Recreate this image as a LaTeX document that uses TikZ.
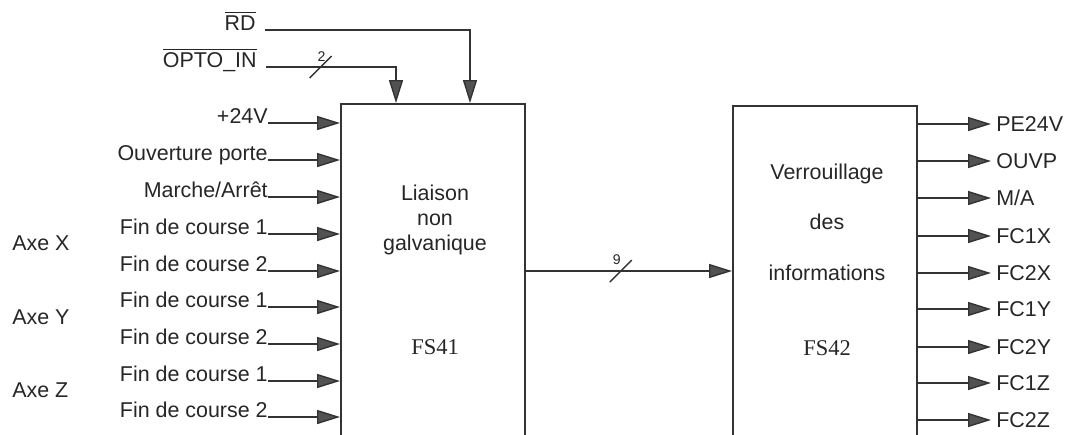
\documentclass[tikz,border=0pt]{standalone}
\usepackage{fontspec}
\setmainfont{Liberation Sans}
\newfontfamily\fsfont{Liberation Serif}
\usetikzlibrary{positioning, arrows.meta}

\begin{document}
\begin{tikzpicture}[
        x=0.02cm, y=-0.02cm,
        % blocchi funzionali (aperti in basso)
        box/.style={
            draw=black!80,
            line width=1.1pt,
            minimum width=3.68cm,
            minimum height=7.4cm,
            inner sep=0pt
        },
        lbl/.style={font=\fontsize{12.2}{14}\selectfont, text=black!85, inner sep=0pt},
        small/.style={font=\fontsize{8}{9}\selectfont, text=black!85, inner sep=0pt},
        % segnali con freccia piena
        sig/.style={draw=black!80, line width=0.8pt,
            -{Triangle[length=0.46cm, width=0.28cm, fill=black!68]}},
        bus/.style={draw=black!80, line width=0.8pt},
    ]

    \useasboundingbox (0,0) rectangle (1069,434);
    \clip (0,0) rectangle (1069,434);

    \node[box] (fs41) at (433,289) {};
    \node[box] (fs42) at (825,291) {};

    \node[lbl, align=center, font=\fontsize{12.2}{14.2}\selectfont] (fs41txt) at (435,220) {Liaison\\non\\galvanique};
    \node[lbl, font=\fsfont\fontsize{12.8}{15}\selectfont] (fs41id) at (435,347) {FS41};
    \node[lbl, align=center, font=\fontsize{12.2}{28.7}\selectfont] (fs42txt) at (827,222) {Verrouillage\\des\\informations};
    \node[lbl, font=\fsfont\fontsize{12.8}{15}\selectfont] (fs42id) at (827,348) {FS42};

    % ingressi
    \foreach \y/\t [count=\i] in {123/+24V, 160/Ouverture porte, 197/{Marche/Arrêt},
            234/Fin de course 1, 271/Fin de course 2, 307/Fin de course 1,
            344/Fin de course 2, 381/Fin de course 1, 417/Fin de course 2}{
        \node[lbl, anchor=base east] (in\i) at (268,\y) {\t};
        \draw[sig] (in\i.base east) -- (fs41.west |- in\i.base east);
    }

    \node[lbl, anchor=west] (axex) at (12,243) {Axe X};
    \node[lbl, anchor=west] (axey) at (12,317) {Axe Y};
    \node[lbl, anchor=west] (axez) at (12,390) {Axe Z};

    % segnali dall'alto
    \node[lbl, anchor=base east] (rd) at (256,30) {$\overline{\hbox{RD}}$};
    \node[lbl, anchor=base east] (opto) at (257,67) {$\overline{\hbox{OPTO\_IN}}$};

    \draw[sig] ([xshift=0.18cm]rd.base east) -| ([xshift=0.74cm]fs41.north);
    \draw[sig] ([xshift=0.18cm]opto.base east) -| coordinate[pos=0.21] (b2) ([xshift=-0.74cm]fs41.north);
    \draw[bus] ([shift={(-11,11)}]b2) -- ([shift={(11,-11)}]b2);
    \node[small] (n2) at ([shift={(1,-10)}]b2) {2};

    % collegamento FS41 -> FS42
    \coordinate (lnk) at ([yshift=0.4cm]fs42.west);
    \draw[sig] (fs41.east |- lnk) -- coordinate[pos=0.46] (b9) (lnk);
    \draw[bus] ([shift={(-11,11)}]b9) -- ([shift={(11,-11)}]b9);
    \node[small] (n9) at ([shift={(-4,-11)}]b9) {9};

    % uscite
    \foreach \y/\t [count=\i] in {124/PE24V, 161/OUVP, 198/{M/A}, 236/FC1X, 273/FC2X,
            309/FC1Y, 347/FC2Y, 383/FC1Z, 420/FC2Z}{
        \node[lbl, anchor=west] (out\i) at (996,\y) {\t};
        \draw[sig, shorten >=0.1cm] (fs42.east |- out\i.west) -- (out\i.west);
    }

\end{tikzpicture}
\end{document}
